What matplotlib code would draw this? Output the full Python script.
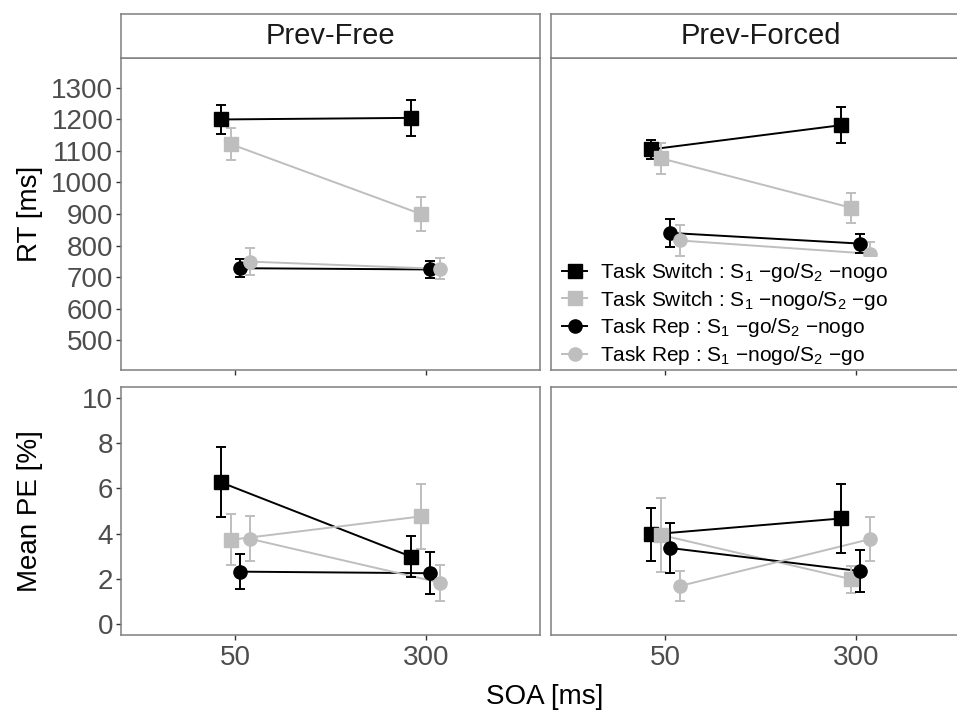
import matplotlib
matplotlib.use("Agg")
import matplotlib.pyplot as plt
from matplotlib.lines import Line2D

plt.rcParams['font.family'] = ['Liberation Sans', 'DejaVu Sans']
plt.rcParams['mathtext.default'] = 'regular'

# ---------------- data ----------------
soa_labels = ["50", "300"]
panel_titles = ["Prev-Free", "Prev-Forced"]
cond_labels = [
    r"Task Switch : $\mathregular{S_1}$ −go/$\mathregular{S_2}$ −nogo",
    r"Task Switch : $\mathregular{S_1}$ −nogo/$\mathregular{S_2}$ −go",
    r"Task Rep : $\mathregular{S_1}$ −go/$\mathregular{S_2}$ −nogo",
    r"Task Rep : $\mathregular{S_1}$ −nogo/$\mathregular{S_2}$ −go",
]
cond_colors = ["#000000", "#BEBEBE", "#000000", "#BEBEBE"]
cond_markers = ["s", "s", "o", "o"]

# RT [ms]: rows = conditions, columns = SOA (50, 300)
rt_free_mean = [[1200, 1205], [1122, 900], [728, 724], [749, 726]]
rt_free_err = [[45, 58], [50, 55], [29, 28], [43, 33]]
rt_forced_mean = [[1105, 1182], [1077, 920], [840, 806], [816, 774]]
rt_forced_err = [[30, 56], [49, 48], [45, 30], [48, 37]]

# Mean PE [%]
pe_free_mean = [[6.27, 2.97], [3.72, 4.76], [2.31, 2.24], [3.77, 1.82]]
pe_free_err = [[1.55, 0.90], [1.13, 1.43], [0.77, 0.92], [1.00, 0.80]]
pe_forced_mean = [[3.96, 4.67], [3.94, 1.98], [3.36, 2.33], [1.67, 3.75]]
pe_forced_err = [[1.19, 1.52], [1.65, 0.60], [1.12, 0.93], [0.67, 0.97]]

rt_ticks = [500, 600, 700, 800, 900, 1000, 1100, 1200, 1300]
pe_ticks = [0, 2, 4, 6, 8, 10]

# ---------------- layout ----------------
W, H = 957, 712
fig = plt.figure(figsize=(W / 100, H / 100), dpi=100)

def fx(px):
    return px / W

def fy(py):
    return 1 - py / H

col_left = [121, 551]
col_w = 419
top_row = (58, 370)
bot_row = (387, 635)
strip = (14, 58)

border_col = "#7F7F7F"
tick_col = "#333333"
label_col = "#4D4D4D"

dodge = [-0.075, -0.025, 0.025, 0.075]

def draw_panel(ax, means, errs, ylim, yticks, show_y, show_x):
    x_base = [1, 2]
    xs_all = []
    for k in range(4):
        xs = [x + dodge[k] for x in x_base]
        xs_all.append(xs)
        ax.plot(xs, means[k], color=cond_colors[k], lw=1.4, zorder=2 + k * 0.01)
    for k in range(4):
        ax.errorbar(xs_all[k], means[k], yerr=errs[k], fmt='none',
                    ecolor=cond_colors[k], elinewidth=1.4, capsize=3.4,
                    capthick=1.4, zorder=3 + k * 0.01)
    for k in range(4):
        ax.plot(xs_all[k], means[k], linestyle='none', marker=cond_markers[k],
                ms=9.5, color=cond_colors[k], mec=cond_colors[k], zorder=4 + k * 0.01)
    ax.set_xlim(0.4, 2.6)
    ax.set_ylim(*ylim)
    ax.set_xticks([1, 2])
    ax.set_yticks(yticks)
    if show_x:
        ax.set_xticklabels(soa_labels)
    else:
        ax.set_xticklabels([])
    if show_y:
        ax.set_yticklabels([str(t) for t in yticks])
        ax.tick_params(axis='y', length=3.5, width=1, color=tick_col,
                       labelsize=20, labelcolor=label_col, pad=2)
    else:
        ax.tick_params(axis='y', length=0, labelleft=False)
    ax.tick_params(axis='x', length=3.5, width=1, color=tick_col,
                   labelsize=20, labelcolor=label_col, pad=4)
    for s in ax.spines.values():
        s.set_color(border_col)
        s.set_linewidth(1.1)
        s.set_zorder(20)

panels = [
    (0, 0, rt_free_mean, rt_free_err),
    (1, 0, rt_forced_mean, rt_forced_err),
    (0, 1, pe_free_mean, pe_free_err),
    (1, 1, pe_forced_mean, pe_forced_err),
]

axes = {}
for col, row, m, e in panels:
    rr = top_row if row == 0 else bot_row
    ax = fig.add_axes([fx(col_left[col]), fy(rr[1]), fx(col_w), (rr[1] - rr[0]) / H])
    axes[(col, row)] = ax
    if row == 0:
        draw_panel(ax, m, e, (405, 1395), rt_ticks, col == 0, False)
    else:
        draw_panel(ax, m, e, (-0.5, 10.5), pe_ticks, col == 0, True)

# strips
for col in range(2):
    sax = fig.add_axes([fx(col_left[col]), fy(strip[1]), fx(col_w), (strip[1] - strip[0]) / H])
    sax.set_xticks([])
    sax.set_yticks([])
    sax.set_facecolor("white")
    for s in sax.spines.values():
        s.set_color(border_col)
        s.set_linewidth(1.1)
    sax.text(0.5, 0.5, panel_titles[col], ha='center', va='center',
             fontsize=21, color="#1A1A1A", transform=sax.transAxes)

# axis titles
fig.text(fx(30), fy((top_row[0] + top_row[1]) / 2), "RT [ms]", rotation=90,
         ha='center', va='center', fontsize=20, color='black')
fig.text(fx(30), fy((bot_row[0] + bot_row[1]) / 2), "Mean PE [%]", rotation=90,
         ha='center', va='center', fontsize=20, color='black')
fig.text(fx(545), fy(697), "SOA [ms]", ha='center', va='center',
         fontsize=20, color='black')

# legend (inside the top-right panel)
handles = [Line2D([0], [0], color=cond_colors[k], lw=1.4, marker=cond_markers[k],
                  ms=9.5, mec=cond_colors[k]) for k in range(4)]
leg = axes[(1, 0)].legend(handles, cond_labels, loc='upper left',
                          bbox_to_anchor=(fx(558), fy(257)),
                          bbox_transform=fig.transFigure, fontsize=15,
                          frameon=True, facecolor='white', edgecolor='none', framealpha=1,
                          handlelength=1.2, handletextpad=0.6, labelspacing=0.22,
                          borderpad=0.2, borderaxespad=0)
leg.set_zorder(10)

fig.savefig("out.png", dpi=100)
